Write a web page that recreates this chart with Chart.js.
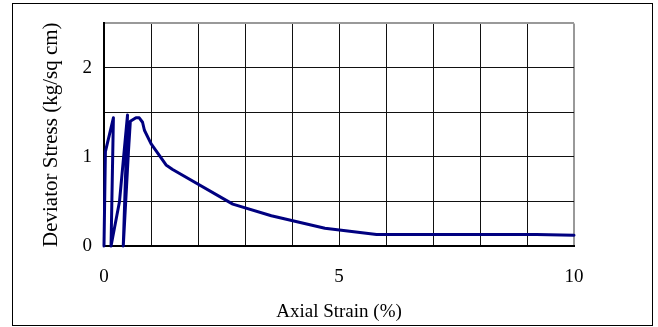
<!DOCTYPE html>
<html>
<head>
<meta charset="utf-8">
<title>Deviator Stress vs Axial Strain</title>
<script src="https://cdn.jsdelivr.net/npm/chart.js@4/dist/chart.umd.min.js"></script>
<style>
  html, body { margin: 0; padding: 0; background: #fff; }
  canvas { display: block; }
</style>
</head>
<body>
<canvas id="stress-chart" width="658" height="327"></canvas>
<script>
// strain (%) and deviator stress (kg/sq cm) readings, in test order
const strain = [0, 0.03, 0.2, 0.15, 0.33, 0.5, 0.41, 0.52, 0.56, 0.68, 0.75, 0.82, 0.86, 1.0, 1.32, 1.46, 2.74, 3.56, 4.7, 5.8, 7.15, 9.2, 10];
const stress = [0, 1.06, 1.44, 0, 0.5, 1.47, 0, 1.06, 1.4, 1.44, 1.44, 1.39, 1.3, 1.15, 0.91, 0.86, 0.47, 0.34, 0.2, 0.13, 0.13, 0.13, 0.12];

const xLabels = [0, 5, 10];
const yLabels = [0, 1, 2];

const points = strain.map((x, i) => ({ x: x, y: stress[i] }));

// white background and the outer frame round the whole chart
const framePlugin = {
  id: "frame",
  beforeDraw: (chart) => {
    const ctx = chart.ctx;
    ctx.save();
    ctx.fillStyle = "#fff";
    ctx.fillRect(0, 0, chart.width, chart.height);
    ctx.strokeStyle = "#000";
    ctx.lineWidth = 1;
    ctx.strokeRect(12.5, 3.5, 640, 322);
    ctx.restore();
  },
};

const font = "'Liberation Serif', 'Times New Roman', serif";

new Chart(document.getElementById("stress-chart"), {
  type: "scatter",
  data: {
    datasets: [
      {
        data: points,
        showLine: true,
        borderColor: "#000080",
        borderWidth: 3,
        borderJoinStyle: "round",
        borderCapStyle: "round",
        pointRadius: 0,
        tension: 0,
        clip: false,
      },
    ],
  },
  options: {
    responsive: false,
    animation: false,
    layout: { padding: { left: 0, right: 84, top: 20, bottom: 0 } },
    plugins: {
      legend: { display: false },
      tooltip: { enabled: false },
    },
    scales: {
      x: {
        type: "linear",
        min: 0,
        max: 10,
        ticks: {
          stepSize: 1,
          padding: 20,
          color: "#000",
          font: { family: font, size: 19 },
          callback: (v) => (xLabels.includes(v) ? v : ""),
        },
        grid: {
          drawTicks: false,
          color: (c) => (c.tick && c.tick.value === 10 ? "#999" : "#111"),
          lineWidth: (c) => (c.tick && c.tick.value === 10 ? 2 : 1),
        },
        border: { color: "#000", width: 2 },
        title: {
          display: true,
          text: "Axial Strain (%)",
          color: "#000",
          font: { family: font, size: 19 },
          padding: { top: 0, bottom: 4 },
        },
        afterFit: (scale) => {
          scale.height = 81;
        },
      },
      y: {
        type: "linear",
        min: 0,
        max: 2.5,
        ticks: {
          stepSize: 0.5,
          padding: 12,
          color: "#000",
          font: { family: font, size: 19 },
          callback: (v) => (yLabels.includes(v) ? v : ""),
        },
        grid: {
          drawTicks: false,
          color: (c) => (c.tick && c.tick.value === 2.5 ? "#999" : "#111"),
          lineWidth: (c) => (c.tick && c.tick.value === 2.5 ? 2 : 1),
        },
        border: { color: "#000", width: 2 },
        title: {
          display: true,
          text: "Deviator Stress (kg/sq cm)",
          color: "#000",
          font: { family: font, size: 21 },
          padding: { top: 39, bottom: 0 },
        },
        afterFit: (scale) => {
          scale.width = 104;
        },
      },
    },
  },
  plugins: [framePlugin],
});
</script>
</body>
</html>
